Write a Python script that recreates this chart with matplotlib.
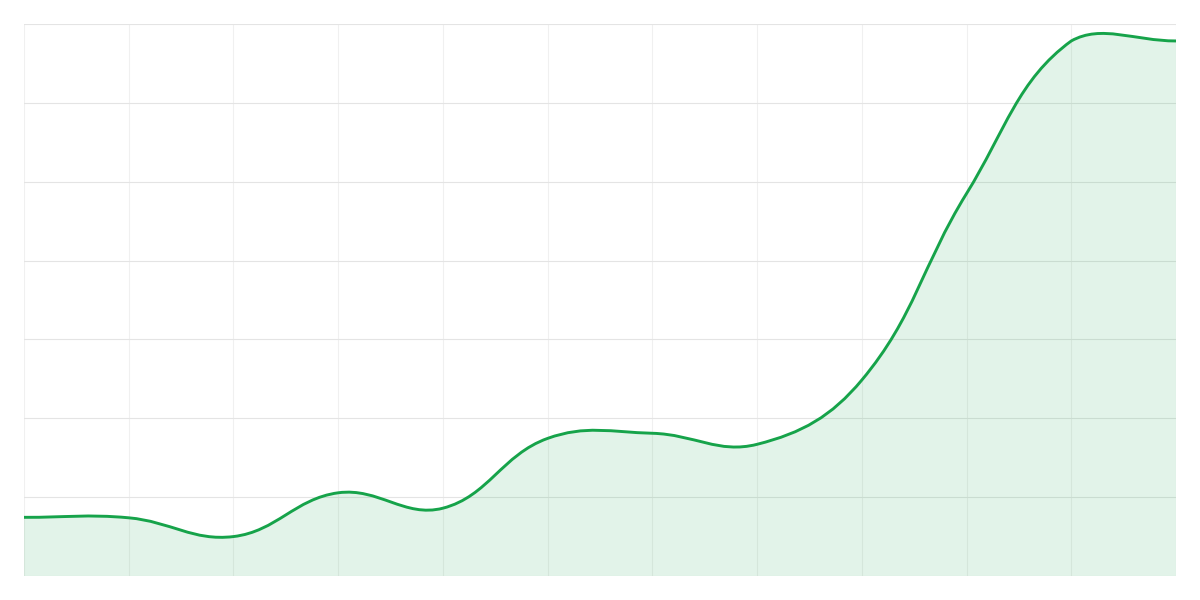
import numpy as np
import matplotlib
matplotlib.use("Agg")
import matplotlib.pyplot as plt
from matplotlib.path import Path
from matplotlib.patches import PathPatch

# values (12 evenly spaced points)
x_idx = list(range(12))
values = [7.44, 7.38, 5.0, 10.55, 8.6, 17.45, 18.1, 16.7, 24.85, 48.5, 67.85, 67.85]
y_min, y_max, y_step = 0, 70, 10

line_color = "#16a34a"
fill_color = (22 / 255, 163 / 255, 74 / 255, 0.12)
tension = 0.4


def spline_controls(px, py, t, x_lo, x_hi, y_lo, y_hi):
    # same control point rule as a chart.js tension curve, in pixel space
    n = len(px)
    prev_cp = np.zeros((n, 2))
    next_cp = np.zeros((n, 2))
    for i in range(n):
        p0 = (px[max(i - 1, 0)], py[max(i - 1, 0)])
        p1 = (px[i], py[i])
        p2 = (px[min(i + 1, n - 1)], py[min(i + 1, n - 1)])
        d01 = np.hypot(p1[0] - p0[0], p1[1] - p0[1])
        d12 = np.hypot(p2[0] - p1[0], p2[1] - p1[1])
        tot = d01 + d12
        s01 = d01 / tot if tot else 0.0
        s12 = d12 / tot if tot else 0.0
        fa, fb = t * s01, t * s12
        dx, dy = p2[0] - p0[0], p2[1] - p0[1]
        prev_cp[i] = (p1[0] - fa * dx, p1[1] - fa * dy)
        next_cp[i] = (p1[0] + fb * dx, p1[1] + fb * dy)
    # keep control points inside the plot area
    for cp in (prev_cp, next_cp):
        cp[:, 0] = np.clip(cp[:, 0], x_lo, x_hi)
        cp[:, 1] = np.clip(cp[:, 1], y_lo, y_hi)
    return prev_cp, next_cp


fig = plt.figure(figsize=(12, 6), dpi=100)
ax = fig.add_axes([0.02, 0.04, 0.96, 0.92])
ax.set_xlim(x_idx[0], x_idx[-1])
ax.set_ylim(y_min, y_max)

for xv in x_idx:
    ax.axvline(xv, color="#f0f0f0", lw=0.8, zorder=0)
for yv in np.arange(y_min, y_max + y_step, y_step):
    ax.axhline(yv, color="#e4e4e4", lw=0.8, zorder=0)

pix = ax.transData.transform(np.column_stack([x_idx, values]))
(x_lo, y_lo), (x_hi, y_hi) = ax.transData.transform([(x_idx[0], y_min), (x_idx[-1], y_max)])
prev_cp, next_cp = spline_controls(pix[:, 0], pix[:, 1], tension, x_lo, x_hi, y_lo, y_hi)
inv = ax.transData.inverted()
prev_cp = inv.transform(prev_cp)
next_cp = inv.transform(next_cp)

verts = [(x_idx[0], values[0])]
codes = [Path.MOVETO]
for i in range(len(x_idx) - 1):
    verts += [tuple(next_cp[i]), tuple(prev_cp[i + 1]), (x_idx[i + 1], values[i + 1])]
    codes += [Path.CURVE4] * 3

fill_verts = verts + [(x_idx[-1], y_min), (x_idx[0], y_min), (x_idx[0], values[0])]
fill_codes = codes + [Path.LINETO, Path.LINETO, Path.CLOSEPOLY]

ax.add_patch(PathPatch(Path(fill_verts, fill_codes), facecolor=fill_color,
                       edgecolor="none", zorder=1))
ax.add_patch(PathPatch(Path(verts, codes), facecolor="none", edgecolor=line_color,
                       lw=2.1, capstyle="round", joinstyle="round", zorder=2))

ax.set_xticks([])
ax.set_yticks([])
for s in ax.spines.values():
    s.set_visible(False)

fig.savefig("out.png", dpi=100)
